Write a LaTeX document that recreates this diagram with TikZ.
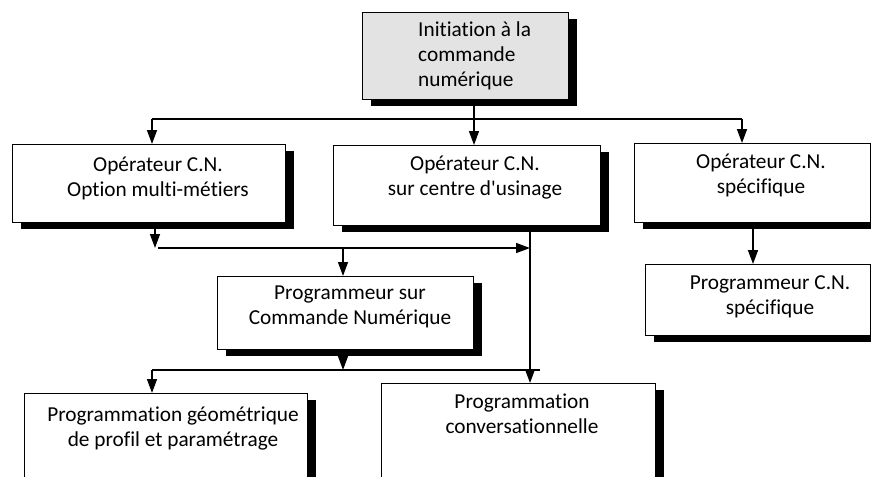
\documentclass[tikz,border=0pt]{standalone}
\usepackage{fontspec}
\setmainfont{Carlito}[Ligatures={TeXOff,NoCommon}]
\usetikzlibrary{arrows.meta,shadows}
\begin{document}
\begin{tikzpicture}[x=1pt,y=-1pt,
  box/.style={draw, line width=1pt, fill=white, anchor=north west, inner sep=0pt, outer sep=0pt,
     general shadow={fill=black, shadow xshift=9pt, shadow yshift=-7pt}},
  txt/.style={font=\fontsize{21.3}{25}\selectfont, align=center, inner sep=0pt, anchor=north},
  conn/.style={line width=1.5pt},
  arr/.style={conn, -{Triangle[length=14pt,width=10pt]}}]
\useasboundingbox (0,0) rectangle (871,477);
\clip (0,0) rectangle (871,477);
% boxes
\node[box, fill=black!11, minimum width=206pt, minimum height=87pt] (init) at (362,12) {};
\node[box, minimum width=273pt, minimum height=78pt] (opL) at (12,144) {};
\node[box, minimum width=267pt, minimum height=80pt] (opM) at (333,145) {};
\node[box, minimum width=236pt, minimum height=79pt] (opR) at (634,143) {};
\node[box, minimum width=256pt, minimum height=73pt] (progS) at (217,276) {};
\node[box, minimum width=225pt, minimum height=71pt] (progR) at (645,264) {};
\node[box, minimum width=283pt, minimum height=110pt] (progG) at (24,393) {};
\node[box, minimum width=274pt, minimum height=120pt] (progC) at (381,383) {};
% texts
\node[txt, anchor=north west, align=left] (initT) at (418,18.5) {\strut Initiation à la\\\strut commande\\\strut numérique};
\node[txt] (opLT) at (158,153.5) {\strut Opérateur C.N.\\\strut Option multi-métiers};
\node[txt] (opMT) at (475,152.5) {\strut Opérateur C.N.\\\strut sur centre d'usinage};
\node[txt] (opRT) at (761,150.5) {\strut Opérateur C.N.\\\strut spécifique};
\node[txt] (progRT) at (770,271.5) {\strut Programmeur C.N.\\\strut spécifique};
\node[txt] (progST) at (350,281.5) {\strut Programmeur sur\\\strut Commande Numérique};
\node[txt] (progGT) at (173,403.5) {\strut Programmation géométrique\\\strut de profil et paramétrage};
\node[txt] (progCT) at (522,390.5) {\strut Programmation\\\strut conversationnelle};
% connectors
\coordinate (a1) at (152,119);
\coordinate (a2) at (742,119);
\coordinate (a3) at (474,119);
\draw[conn] (a1) -- (a2);
\draw[arr] (a1) -- (a1 |- opL.north);
\draw[arr] (a2) -- (a2 |- opR.north);
\draw[arr] (a3 |- init.south) -- (a3 |- opM.north);
\coordinate (b1) at (155,248);
\coordinate (b2) at (158,248);
\coordinate (b3) at (530,248);
\coordinate (b4) at (343,248);
\draw[arr] (b1 |- opL.south) -- (b1);
\draw[arr] (b2) -- (b3);
\draw[arr] (b3 |- opM.south) -- (b3 |- progC.north);
\draw[arr] (b4) -- (b4 |- progS.north);
\coordinate (c1) at (152,370);
\coordinate (c2) at (540,370);
\coordinate (c3) at (343,370);
\draw[conn] (c1) -- (c2);
\draw[arr] (c3 |- progS.south) -- (c3);
\draw[arr] (c1) -- (c1 |- progG.north);
\coordinate (d1) at (753,230);
\draw[arr] (d1 |- opR.south) -- (d1 |- progR.north);
\end{tikzpicture}
\end{document}
